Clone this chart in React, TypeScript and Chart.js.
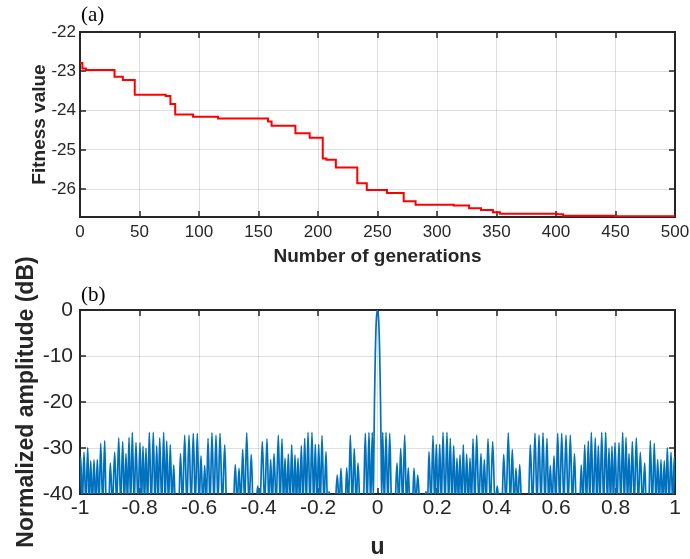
import { useEffect, useRef } from "react";
import { Chart, registerables } from "chart.js";

Chart.register(...registerables);

// ---------- (a) GA convergence ----------
const generations = [0, 2, 5, 29, 36, 46, 72, 76, 80, 95, 116, 158, 161, 181, 193, 204, 207, 215, 233, 241, 258, 272, 282, 314, 327, 337, 347, 353, 401, 406, 450, 500];
const fitness = [-22.79, -22.93, -22.97, -23.14, -23.22, -23.6, -23.63, -23.83, -24.1, -24.16, -24.2, -24.28, -24.39, -24.58, -24.69, -25.22, -25.25, -25.45, -25.85, -26.02, -26.1, -26.31, -26.4, -26.42, -26.49, -26.53, -26.59, -26.63, -26.64, -26.68, -26.69, -26.71];
const genTicks = [0, 50, 100, 150, 200, 250, 300, 350, 400, 450, 500];
const fitnessTicks = [-26, -25, -24, -23, -22];

// ---------- (b) radiation pattern ----------
const uTicks = [-1, -0.8, -0.6, -0.4, -0.2, 0, 0.2, 0.4, 0.6, 0.8, 1];
const uTickLabels = ["-1", "-0.8", "-0.6", "-0.4", "-0.2", "0", "0.2", "0.4", "0.6", "0.8", "1"];
const dbTicks = [-40, -30, -20, -10, 0];

const leftLobeU = [
  -0.9976, -0.9866, -0.9741, -0.964, -0.9529, -0.9418, -0.9304, -0.917, -0.9076, -0.8982,
  -0.8834, -0.8699, -0.8565, -0.8454, -0.8353, -0.8242, -0.8118, -0.7983, -0.7882, -0.7782,
  -0.7671, -0.7536, -0.7422, -0.7321, -0.7187, -0.7086, -0.6965, -0.685, -0.6739, -0.6622,
  -0.6481, -0.6336, -0.6192, -0.6057, -0.5933, -0.5808, -0.5697, -0.5563, -0.5429, -0.5294,
  -0.5136, -0.5018, -0.4901, -0.478, -0.4655, -0.4531, -0.4397, -0.4242, -0.4134, -0.4027,
  -0.3872, -0.3714, -0.359, -0.3479, -0.3334, -0.321, -0.3109, -0.2998, -0.2884, -0.2773,
  -0.2672, -0.2561, -0.2447, -0.2336, -0.2202, -0.2091, -0.1976, -0.1866, -0.1731, -0.163,
  -0.1489, -0.1351, -0.1227, -0.1129, -0.1035, -0.0914, -0.078, -0.0655, -0.0531, -0.041,
  -0.0286, -0.0175,
];
const leftLobeDb = [
  -31.9, -30.9, -29.9, -32.8, -32.6, -32.5, -29.0, -28.4, -45, -33.3,
  -30.9, -27.8, -28.6, -31.2, -27.7, -26.6, -28.8, -28.8, -29.6, -30.0,
  -26.6, -26.6, -29.5, -27.8, -26.6, -28.5, -29.3, -33.7, -42, -31.2,
  -27.2, -27.2, -26.8, -26.8, -31.7, -33.8, -27.9, -26.7, -27.2, -26.8,
  -29.3, -45, -45, -33.6, -34.4, -30.3, -26.7, -31.4, -45, -38.3,
  -28.6, -28.0, -32.5, -31.2, -27.2, -28.0, -32.2, -31.3, -29.3, -31.5,
  -32.2, -29.5, -27.9, -26.6, -26.6, -29.2, -29.2, -27.3, -30.8, -39.5,
  -45, -35.9, -34.4, -45, -34.3, -27.2, -30.1, -33.3, -45, -26.8,
  -26.6, -26.6,
];
const mainLobeU = [-0.0142, -0.012, -0.0102, -0.0075, -0.0042, 0, 0.0042, 0.0075, 0.0102, 0.012, 0.0142];
const mainLobeDb = [-41, -30, -20, -10, -2.5, 0, -2.5, -10, -20, -30, -41];
const rightLobeU = [
  0.0175, 0.0286, 0.041, 0.0531, 0.0655, 0.078, 0.0914, 0.1035, 0.1129, 0.1227,
  0.1351, 0.1489, 0.163, 0.1731, 0.1866, 0.1976, 0.2091, 0.2202, 0.2336, 0.2447,
  0.2561, 0.2672, 0.2773, 0.2884, 0.2998, 0.3109, 0.321, 0.3334, 0.3479, 0.359,
  0.3714, 0.3872, 0.4027, 0.4134, 0.4242, 0.4397, 0.4531, 0.4655, 0.478, 0.4901,
  0.5018, 0.5136, 0.5294, 0.5429, 0.5563, 0.5697, 0.5808, 0.5933, 0.6057, 0.6192,
  0.6336, 0.6481, 0.6622, 0.6739, 0.685, 0.6965, 0.7086, 0.7187, 0.7321, 0.7422,
  0.7536, 0.7671, 0.7782, 0.7882, 0.7983, 0.8118, 0.8242, 0.8353, 0.8454, 0.8565,
  0.8699, 0.8834, 0.8982, 0.9076, 0.917, 0.9304, 0.9418, 0.9529, 0.964, 0.9741,
  0.9866, 0.9976,
];
const rightLobeDb = [
  -26.6, -26.6, -26.8, -45, -33.3, -30.1, -27.2, -34.3, -45, -34.4,
  -35.9, -45, -39.5, -30.8, -27.3, -29.2, -29.2, -26.6, -26.6, -27.9,
  -29.5, -32.2, -31.5, -29.3, -31.3, -32.2, -28.0, -27.2, -31.2, -32.5,
  -28.0, -28.6, -38.3, -45, -31.4, -26.7, -30.3, -34.4, -33.6, -45,
  -45, -29.3, -26.8, -27.2, -26.7, -27.9, -33.8, -31.7, -26.8, -26.8,
  -27.2, -27.2, -31.2, -42, -33.7, -29.3, -28.5, -26.6, -27.8, -29.5,
  -26.6, -26.6, -30.0, -29.6, -28.8, -28.8, -26.6, -27.7, -31.2, -28.6,
  -27.8, -30.9, -33.3, -45, -28.4, -29.0, -32.5, -32.6, -32.8, -29.9,
  -30.9, -31.9,
];
const NULL_DB = -42.5;

const TEXT = "#262626";
const GRID = "rgba(38,38,38,0.15)";
const SANS = '"Liberation Sans", Arial, sans-serif';
const SERIF = '"Liberation Serif", "Times New Roman", serif';

// peaks with a null between neighbours; outer nulls only where requested
function lobeTrace(us: number[], dbs: number[], leadNull: boolean, tailNull: boolean) {
  const pts: { x: number; y: number }[] = [];
  for (let i = 0; i < us.length; i++) {
    if (i === 0 && leadNull) pts.push({ x: us[0] - (us[1] - us[0]) / 2, y: NULL_DB });
    pts.push({ x: us[i], y: dbs[i] });
    if (i < us.length - 1) pts.push({ x: (us[i] + us[i + 1]) / 2, y: NULL_DB });
    else if (tailNull) pts.push({ x: us[i] + (us[i] - us[i - 1]) / 2, y: NULL_DB });
  }
  return pts;
}

type FrameCfg = {
  xTitle: string; yTitle: string; panel: string;
  titleFont: number; xTitleBaseline: number; yTitleBaseline: number; panelBaseline: number;
};

function framePlugin(cfg: FrameCfg) {
  return {
    id: "frame",
    beforeDatasetsDraw(chart: any) {
      const { ctx, chartArea: a, scales } = chart;
      const x = scales.x, y = scales.y;
      const L = 6;
      ctx.save();
      ctx.strokeStyle = TEXT;
      ctx.lineWidth = 1.5;
      ctx.beginPath();
      for (const t of x.ticks) {
        const px = Math.round(x.getPixelForValue(t.value));
        ctx.moveTo(px, a.bottom); ctx.lineTo(px, a.bottom - L);
        ctx.moveTo(px, a.top); ctx.lineTo(px, a.top + L);
      }
      for (const t of y.ticks) {
        const py = Math.round(y.getPixelForValue(t.value));
        ctx.moveTo(a.left, py); ctx.lineTo(a.left + L, py);
        ctx.moveTo(a.right, py); ctx.lineTo(a.right - L, py);
      }
      ctx.stroke();
      ctx.lineWidth = 2;
      ctx.strokeRect(a.left, a.top, a.right - a.left, a.bottom - a.top);
      ctx.restore();
    },
    afterDraw(chart: any) {
      const { ctx, chartArea: a } = chart;
      ctx.save();
      ctx.fillStyle = TEXT;
      ctx.font = `bold ${cfg.titleFont}px ${SANS}`;
      ctx.textAlign = "center";
      ctx.textBaseline = "alphabetic";
      ctx.fillText(cfg.xTitle, (a.left + a.right) / 2, cfg.xTitleBaseline);
      ctx.translate(cfg.yTitleBaseline, (a.top + a.bottom) / 2);
      ctx.rotate(-Math.PI / 2);
      ctx.fillText(cfg.yTitle, 0, 0);
      ctx.restore();
      ctx.save();
      ctx.fillStyle = "#000";
      ctx.font = `21px ${SERIF}`;
      ctx.textAlign = "left";
      ctx.textBaseline = "alphabetic";
      ctx.fillText(cfg.panel, a.left + 1, cfg.panelBaseline);
      ctx.restore();
    },
  };
}

function axisOpts(min: number, max: number, ticks: number[], labels: string[] | null, fontSize: number, pad: number, isX: boolean) {
  return {
    type: "linear",
    min, max,
    afterBuildTicks: (s: any) => { s.ticks = ticks.map((v) => ({ value: v })); },
    afterFit: (s: any) => {
      if (isX) { s.height = 40; s.paddingLeft = 0; s.paddingRight = 0; }
      else { s.width = 80; s.paddingTop = 0; s.paddingBottom = 0; }
    },
    ticks: {
      autoSkip: false, maxRotation: 0, minRotation: 0, padding: pad,
      color: TEXT,
      font: { family: SANS, size: fontSize },
      callback: (v: number, i: number) => (labels ? labels[i] : String(ticks[i])),
    },
    grid: { color: GRID, lineWidth: 1, drawTicks: false },
    border: { display: false },
  };
}

export default function App() {
  const topRef = useRef<HTMLCanvasElement>(null);
  const botRef = useRef<HTMLCanvasElement>(null);

  useEffect(() => {
    const fitPts = generations.map((g, i) => ({ x: g, y: fitness[i] }));
    const patPts = [
      ...lobeTrace(leftLobeU, leftLobeDb, true, false),
      ...mainLobeU.map((u, i) => ({ x: u, y: mainLobeDb[i] })),
      ...lobeTrace(rightLobeU, rightLobeDb, false, true),
    ];

    const top = new Chart(topRef.current as HTMLCanvasElement, {
      type: "line",
      data: {
        datasets: [{
          data: fitPts, borderColor: "#FF0000", borderWidth: 2, pointRadius: 0,
          stepped: true, fill: false,
        }],
      },
      options: {
        animation: false, responsive: false, devicePixelRatio: 1, events: [],
        layout: { padding: { left: 0, right: 15, top: 32, bottom: 302 } },
        plugins: { legend: { display: false }, tooltip: { enabled: false } },
        scales: {
          x: axisOpts(0, 500, genTicks, null, 17, 5, true),
          y: axisOpts(-26.71, -22, fitnessTicks, null, 17, 4, false),
        },
      } as any,
      plugins: [framePlugin({
        xTitle: "Number of generations", yTitle: "Fitness value", panel: "(a)",
        titleFont: 19, xTitleBaseline: 262, yTitleBaseline: 45, panelBaseline: 21,
      })],
    });

    const bot = new Chart(botRef.current as HTMLCanvasElement, {
      type: "line",
      data: {
        datasets: [{
          data: patPts, borderColor: "#0072BD", borderWidth: 1.7, pointRadius: 0,
          cubicInterpolationMode: "monotone", fill: false,
        }],
      },
      options: {
        animation: false, responsive: false, devicePixelRatio: 1, events: [],
        layout: { padding: { left: 0, right: 15, top: 310, bottom: 25 } },
        plugins: { legend: { display: false }, tooltip: { enabled: false } },
        scales: {
          x: axisOpts(-1, 1, uTicks, uTickLabels, 21, 2, true),
          y: axisOpts(-40, 0, dbTicks, null, 21, 7, false),
        },
      } as any,
      plugins: [framePlugin({
        xTitle: "u", yTitle: "Normalized amplitude (dB)", panel: "(b)",
        titleFont: 23, xTitleBaseline: 554, yTitleBaseline: 33, panelBaseline: 301,
      })],
    });

    return () => { top.destroy(); bot.destroy(); };
  }, []);

  return (
    <div style={{ position: "absolute", left: 0, top: 0, width: 690, height: 559, background: "#fff" }}>
      <canvas ref={topRef} width={690} height={559} style={{ position: "absolute", left: 0, top: 0 }} />
      <canvas ref={botRef} width={690} height={559} style={{ position: "absolute", left: 0, top: 0 }} />
    </div>
  );
}
